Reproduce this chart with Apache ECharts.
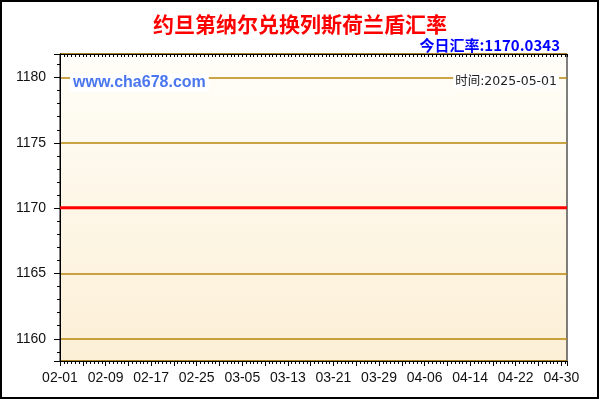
<!DOCTYPE html>
<html>
<head>
<meta charset="utf-8">
<script src="https://cdn.jsdelivr.net/npm/echarts@6/dist/echarts.min.js"></script>
<style>html,body{margin:0;padding:0;background:#fff}#c{width:600px;height:400px}</style>
</head>
<body>
<div id="c"></div>
<script>
// ---- data ----
var titleText = '约旦第纳尔兑换列斯荷兰盾汇率';
var rateText = '今日汇率:1170.0343';
var siteText = 'www.cha678.com';
var timeText = '时间:2025-05-01';
// x tick labels (every 8 days from 02-01)
var xTickLabels = ['02-01','02-09','02-17','02-25','03-05','03-13','03-21','03-29','04-06','04-14','04-22','04-30'];
// daily rate values 02-01 .. 05-01
var rateValues = [
1170.0343,1170.0343,1170.0343,1170.0343,1170.0343,1170.0343,1170.0343,1170.0343,1170.0343,1170.0343,
1170.0343,1170.0343,1170.0343,1170.0343,1170.0343,1170.0343,1170.0343,1170.0343,1170.0343,1170.0343,
1170.0343,1170.0343,1170.0343,1170.0343,1170.0343,1170.0343,1170.0343,1170.0343,1170.0343,1170.0343,
1170.0343,1170.0343,1170.0343,1170.0343,1170.0343,1170.0343,1170.0343,1170.0343,1170.0343,1170.0343,
1170.0343,1170.0343,1170.0343,1170.0343,1170.0343,1170.0343,1170.0343,1170.0343,1170.0343,1170.0343,
1170.0343,1170.0343,1170.0343,1170.0343,1170.0343,1170.0343,1170.0343,1170.0343,1170.0343,1170.0343,
1170.0343,1170.0343,1170.0343,1170.0343,1170.0343,1170.0343,1170.0343,1170.0343,1170.0343,1170.0343,
1170.0343,1170.0343,1170.0343,1170.0343,1170.0343,1170.0343,1170.0343,1170.0343,1170.0343,1170.0343,
1170.0343,1170.0343,1170.0343,1170.0343,1170.0343,1170.0343,1170.0343,1170.0343,1170.0343,1170.0343
];

var labelFont = 'Arial, "Liberation Sans", sans-serif';
var cjkFont = '"Noto Sans CJK SC", sans-serif';
var yMin = 1158.3, yMax = 1181.8;
var xMin = 0, xMax = rateValues.length - 1;
var black = '#000';
var gridColor = '#b8860b';

var chart = echarts.init(document.getElementById('c'), null, {renderer: 'canvas'});

var option = {
  backgroundColor: '#fff',
  animation: false,
  title: [
    {text: titleText, left: 'center', top: 9,
     textStyle: {fontFamily: cjkFont, fontSize: 21, fontWeight: 'bold', color: '#ff0000'}},
    {text: rateText, right: 35, top: 33,
     textStyle: {fontFamily: cjkFont, fontSize: 15, fontWeight: 'bold', color: '#0000ff'}}
  ],
  grid: {left: 60, right: 33, top: 54, bottom: 39, show: true,
    borderColor: black, borderWidth: 1,
    backgroundColor: new echarts.graphic.LinearGradient(0, 0, 0, 1, [
      {offset: 0, color: '#fffef8'}, {offset: 1, color: '#fcefd6'}])},
  xAxis: [
    {type: 'value', min: xMin, max: xMax, interval: 4, position: 'bottom',
     axisLine: {show: true, onZero: false, lineStyle: {color: black}},
     axisTick: {show: true, length: 5, lineStyle: {color: black}},
     minorTick: {show: true, splitNumber: 6, length: 3, lineStyle: {color: black}},
     axisLabel: {margin: 10, fontFamily: labelFont, fontSize: 14, color: '#111',
       formatter: function (v) { return (v % 8 === 0 && xTickLabels[v / 8]) ? xTickLabels[v / 8] : ''; }},
     splitLine: {show: false}},
    {type: 'value', min: xMin, max: xMax, interval: 4, position: 'top',
     axisLine: {show: true, onZero: false, lineStyle: {color: black}},
     axisTick: {show: true, inside: true, length: 3, lineStyle: {color: black}},
     minorTick: {show: true, splitNumber: 6, length: 3, lineStyle: {color: black}},
     axisLabel: {show: false}, splitLine: {show: false}}
  ],
  yAxis: [
    {type: 'value', min: yMin, max: yMax, splitNumber: 5, position: 'left',
     axisLine: {show: true, lineStyle: {color: black}},
     axisTick: {show: true, length: 6, lineStyle: {color: black}},
     minorTick: {show: true, splitNumber: 5, length: 3, lineStyle: {color: black}},
     axisLabel: {show: true, showMinLabel: false, showMaxLabel: false, margin: 14,
       fontFamily: labelFont, fontSize: 14, color: '#111',
       formatter: function (v) { return String(Math.round(v)); }},
     splitLine: {show: true, lineStyle: {color: gridColor, width: 1.6, opacity: 1}},
     minorSplitLine: {show: false}},
    {type: 'value', min: yMin, max: yMax, splitNumber: 5, position: 'right',
     axisLine: {show: true, lineStyle: {color: black}},
     axisTick: {show: true, inside: true, length: 5, lineStyle: {color: black}},
     minorTick: {show: true, splitNumber: 5, length: 3, lineStyle: {color: black}},
     axisLabel: {show: false}, splitLine: {show: false}, minorSplitLine: {show: false}}
  ],
  graphic: [
    {type: 'rect', shape: {x: 1, y: 1, width: 597, height: 397}, style: {fill: 'none', stroke: black, lineWidth: 2}, z: 100},
    {type: 'text', left: 70, top: 74, z: 50,
     style: {text: siteText, fontFamily: labelFont, fontSize: 16, fontWeight: 'bold', fill: '#4a76ee',
       backgroundColor: '#fff', padding: [1, 3, 1, 3]}},
    {type: 'text', right: 600 - 559, top: 74, z: 50,
     style: {text: timeText, fontFamily: '"DejaVu Sans", ' + cjkFont, fontSize: 12.5, fill: '#222',
       backgroundColor: '#fff', padding: [1, 2, 1, 2]}}
  ],
  series: [{
    type: 'line', xAxisIndex: 0, yAxisIndex: 0, showSymbol: false, symbol: 'none',
    data: rateValues.map(function (v, i) { return [i, v]; }),
    lineStyle: {color: '#ff0000', width: 3}, z: 10
  }]
};
chart.setOption(option);
</script>
</body>
</html>
